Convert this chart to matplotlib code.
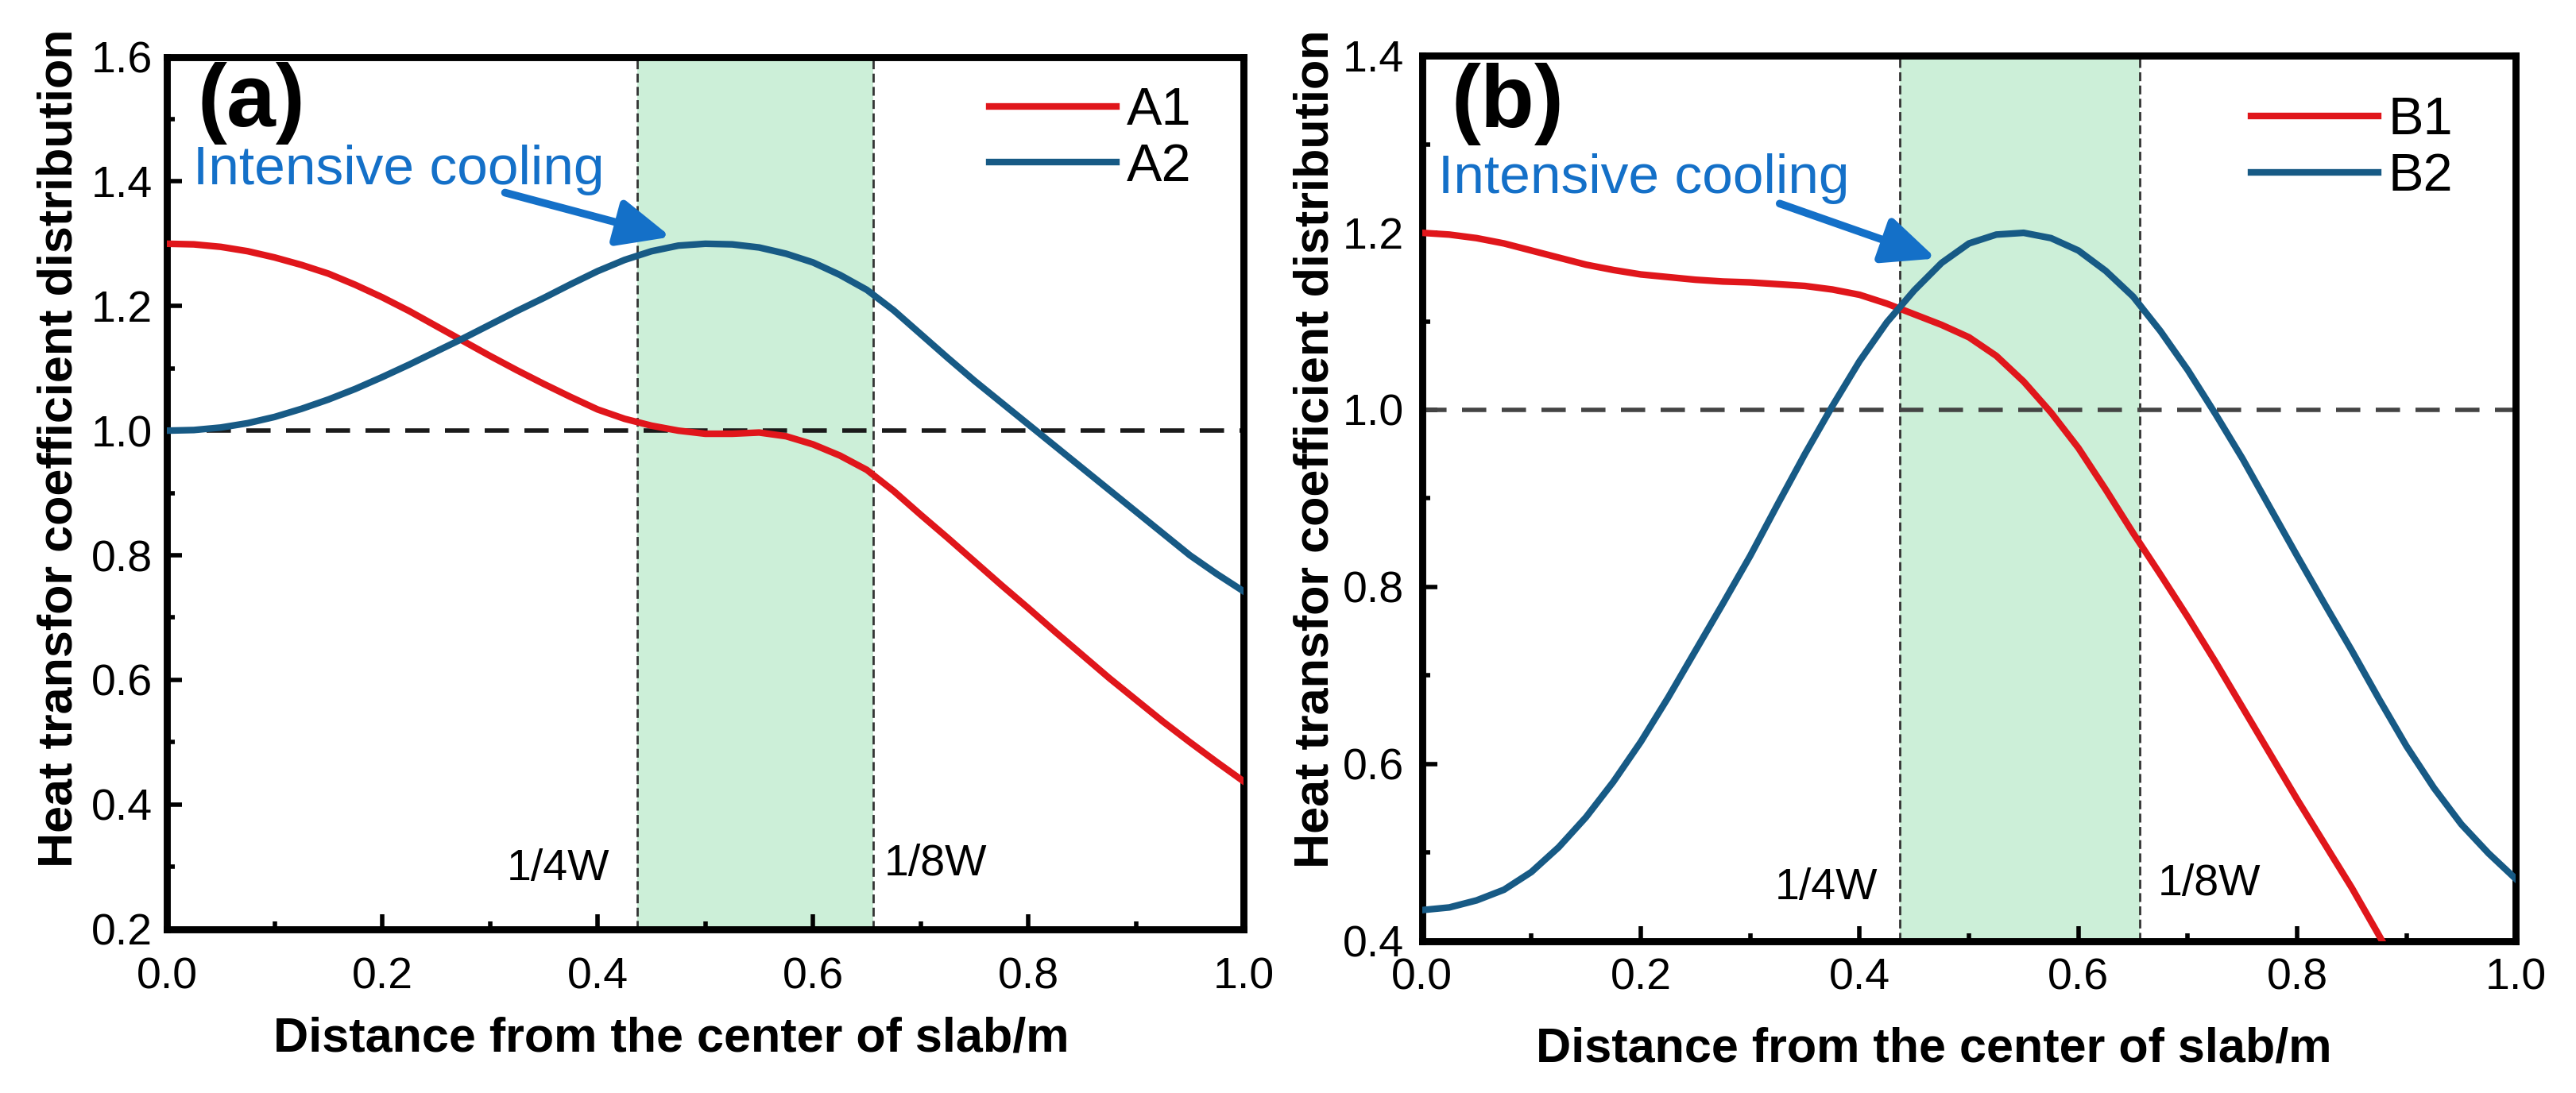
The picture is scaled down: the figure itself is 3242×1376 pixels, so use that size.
import matplotlib
matplotlib.use('Agg')
import matplotlib.pyplot as plt
from matplotlib.ticker import MultipleLocator, FormatStrFormatter

plt.rcParams['font.family'] = ['Liberation Sans', 'DejaVu Sans']

# ---- panel (a) data ----
x_a = [0.000, 0.025, 0.050, 0.075, 0.100, 0.125, 0.150, 0.175, 0.200, 0.225,
       0.250, 0.275, 0.300, 0.325, 0.350, 0.375, 0.400, 0.425, 0.450, 0.475,
       0.500, 0.525, 0.550, 0.575, 0.600, 0.625, 0.650, 0.675, 0.700, 0.725,
       0.750, 0.775, 0.800, 0.825, 0.850, 0.875, 0.900, 0.925, 0.950, 0.975,
       1.000]
a1 = [1.300, 1.299, 1.295, 1.288, 1.278, 1.266, 1.252, 1.234, 1.214, 1.192,
      1.168, 1.144, 1.120, 1.097, 1.075, 1.054, 1.034, 1.019, 1.008, 1.000,
      0.995, 0.995, 0.997, 0.991, 0.978, 0.960, 0.937, 0.903, 0.865, 0.828,
      0.790, 0.752, 0.715, 0.677, 0.640, 0.603, 0.568, 0.533, 0.500, 0.468,
      0.437]
a2 = [1.000, 1.001, 1.005, 1.012, 1.022, 1.035, 1.050, 1.067, 1.086, 1.106,
      1.127, 1.148, 1.170, 1.192, 1.213, 1.235, 1.256, 1.274, 1.288, 1.297,
      1.300, 1.299, 1.294, 1.284, 1.270, 1.250, 1.226, 1.193, 1.155, 1.117,
      1.080, 1.045, 1.010, 0.975, 0.940, 0.905, 0.870, 0.835, 0.800, 0.770,
      0.742]

# ---- panel (b) data ----
x_b1 = [0.000, 0.025, 0.050, 0.075, 0.100, 0.125, 0.150, 0.175, 0.200, 0.225,
        0.250, 0.275, 0.300, 0.325, 0.350, 0.375, 0.400, 0.425, 0.450, 0.475,
        0.500, 0.525, 0.550, 0.575, 0.600, 0.625, 0.650, 0.675, 0.700, 0.725,
        0.750, 0.775, 0.800, 0.825, 0.850, 0.875, 0.880]
b1 = [1.200, 1.198, 1.194, 1.188, 1.180, 1.172, 1.164, 1.158, 1.153, 1.150,
      1.147, 1.145, 1.144, 1.142, 1.140, 1.136, 1.130, 1.120, 1.108, 1.096,
      1.082, 1.061, 1.032, 0.997, 0.957, 0.910, 0.861, 0.814, 0.766, 0.716,
      0.664, 0.612, 0.560, 0.510, 0.460, 0.406, 0.395]
x_b2 = x_a
b2 = [0.435, 0.438, 0.446, 0.458, 0.478, 0.506, 0.540, 0.580, 0.625, 0.675,
      0.728, 0.781, 0.835, 0.893, 0.950, 1.004, 1.055, 1.099, 1.135, 1.166,
      1.188, 1.198, 1.200, 1.194, 1.180, 1.157, 1.128, 1.089, 1.045, 0.996,
      0.945, 0.890, 0.835, 0.781, 0.728, 0.673, 0.620, 0.573, 0.532, 0.499,
      0.470]

zone = [0.437, 0.656]          # intensive cooling zone (1/4W .. 1/8W)
xticks = [0.0, 0.2, 0.4, 0.6, 0.8, 1.0]

RED = '#e0161b'
BLUE = '#175a85'
NOTE_BLUE = '#1470c8'
GREEN = '#ccefd8'


def draw_panel(ax, xs1, ys1, xs2, ys2, names, ylim, tag, tag_xy, note_xy,
               arrow_tail, arrow_tip, w4_xy, w8_xy, leg_xy, line_col, xpad, ypad):
    ax.axvspan(zone[0], zone[1], color=GREEN, lw=0, zorder=0)
    for z in zone:
        ax.axvline(z, color='#333333', lw=1.0, ls=(0, (4, 2)), zorder=1)
    ax.axhline(1.0, color=line_col, lw=2.0, ls=(0, (5.5, 3.5)), zorder=2)

    ax.plot(xs1, ys1, color=RED, lw=3, label=names[0], zorder=3)
    ax.plot(xs2, ys2, color=BLUE, lw=3, label=names[1], zorder=3)

    ax.set_xlim(0, 1.0)
    ax.set_ylim(*ylim)
    ax.set_xticks(xticks)
    ax.xaxis.set_minor_locator(MultipleLocator(0.1))
    ax.yaxis.set_major_locator(MultipleLocator(0.2))
    ax.yaxis.set_minor_locator(MultipleLocator(0.1))
    ax.xaxis.set_major_formatter(FormatStrFormatter('%.1f'))
    ax.yaxis.set_major_formatter(FormatStrFormatter('%.1f'))
    ax.tick_params(which='both', direction='in', top=False, right=False, width=2,
                   labelsize=20)
    ax.tick_params(which='major', length=7)
    ax.tick_params(which='minor', length=3.5)
    ax.tick_params(axis='x', pad=xpad)
    ax.tick_params(axis='y', pad=ypad)
    for sp in ax.spines.values():
        sp.set_linewidth(3.2)

    ax.text(tag_xy[0], tag_xy[1], tag, fontsize=40, fontweight='bold', va='center')
    ax.text(note_xy[0], note_xy[1], 'Intensive cooling', fontsize=25,
            color=NOTE_BLUE, va='baseline')
    ax.annotate('', xy=arrow_tip, xytext=arrow_tail,
                arrowprops=dict(arrowstyle='-|>,head_length=0.45,head_width=0.2',
                                color=NOTE_BLUE, lw=3.5, mutation_scale=45,
                                shrinkA=0, shrinkB=0))
    ax.text(w4_xy[0], w4_xy[1], '1/4W', fontsize=20, ha='right', va='center')
    ax.text(w8_xy[0], w8_xy[1], '1/8W', fontsize=20, ha='left', va='center')

    ax.legend(loc='upper left', bbox_to_anchor=leg_xy, frameon=False, fontsize=24,
              handlelength=2.4, handletextpad=0.18, labelspacing=0.13,
              borderpad=0, borderaxespad=0)


fig = plt.figure(figsize=(16.21, 6.88), dpi=200)
ax1 = fig.add_axes([0.0648, 0.150, 0.418, 0.798])
ax2 = fig.add_axes([0.552, 0.139, 0.4247, 0.810])

draw_panel(ax1, x_a, a1, x_a, a2, ['A1', 'A2'], (0.2, 1.6), '(a)',
           tag_xy=(0.028, 1.526), note_xy=(0.024, 1.395),
           arrow_tail=(0.314, 1.382), arrow_tip=(0.468, 1.311),
           w4_xy=(0.411, 0.296), w8_xy=(0.666, 0.304),
           leg_xy=(0.764, 0.966), line_col='#1a1a1a', xpad=12.5, ypad=6.5)
draw_panel(ax2, x_b1, b1, x_b2, b2, ['B1', 'B2'], (0.4, 1.4), '(b)',
           tag_xy=(0.027, 1.345), note_xy=(0.015, 1.245),
           arrow_tail=(0.327, 1.233), arrow_tip=(0.470, 1.171),
           w4_xy=(0.417, 0.460), w8_xy=(0.673, 0.464),
           leg_xy=(0.758, 0.954), line_col='#444444', xpad=7.5, ypad=8)

# axis titles, placed where they sit in the original
for ax, lx, ly, xx, xy in [(ax1, -0.079, 0.551, 0.4686, -0.100),
                           (ax2, -0.0763, 0.556, 0.468, -0.097)]:
    ax.set_ylabel('Heat transfor coefficient distribution', fontsize=22,
                  fontweight='bold')
    ax.yaxis.set_label_coords(lx, ly)
    ax.set_xlabel('Distance from the center of slab/m', fontsize=22,
                  fontweight='bold')
    ax.xaxis.set_label_coords(xx, xy)

fig.savefig('out.png', dpi=200)
